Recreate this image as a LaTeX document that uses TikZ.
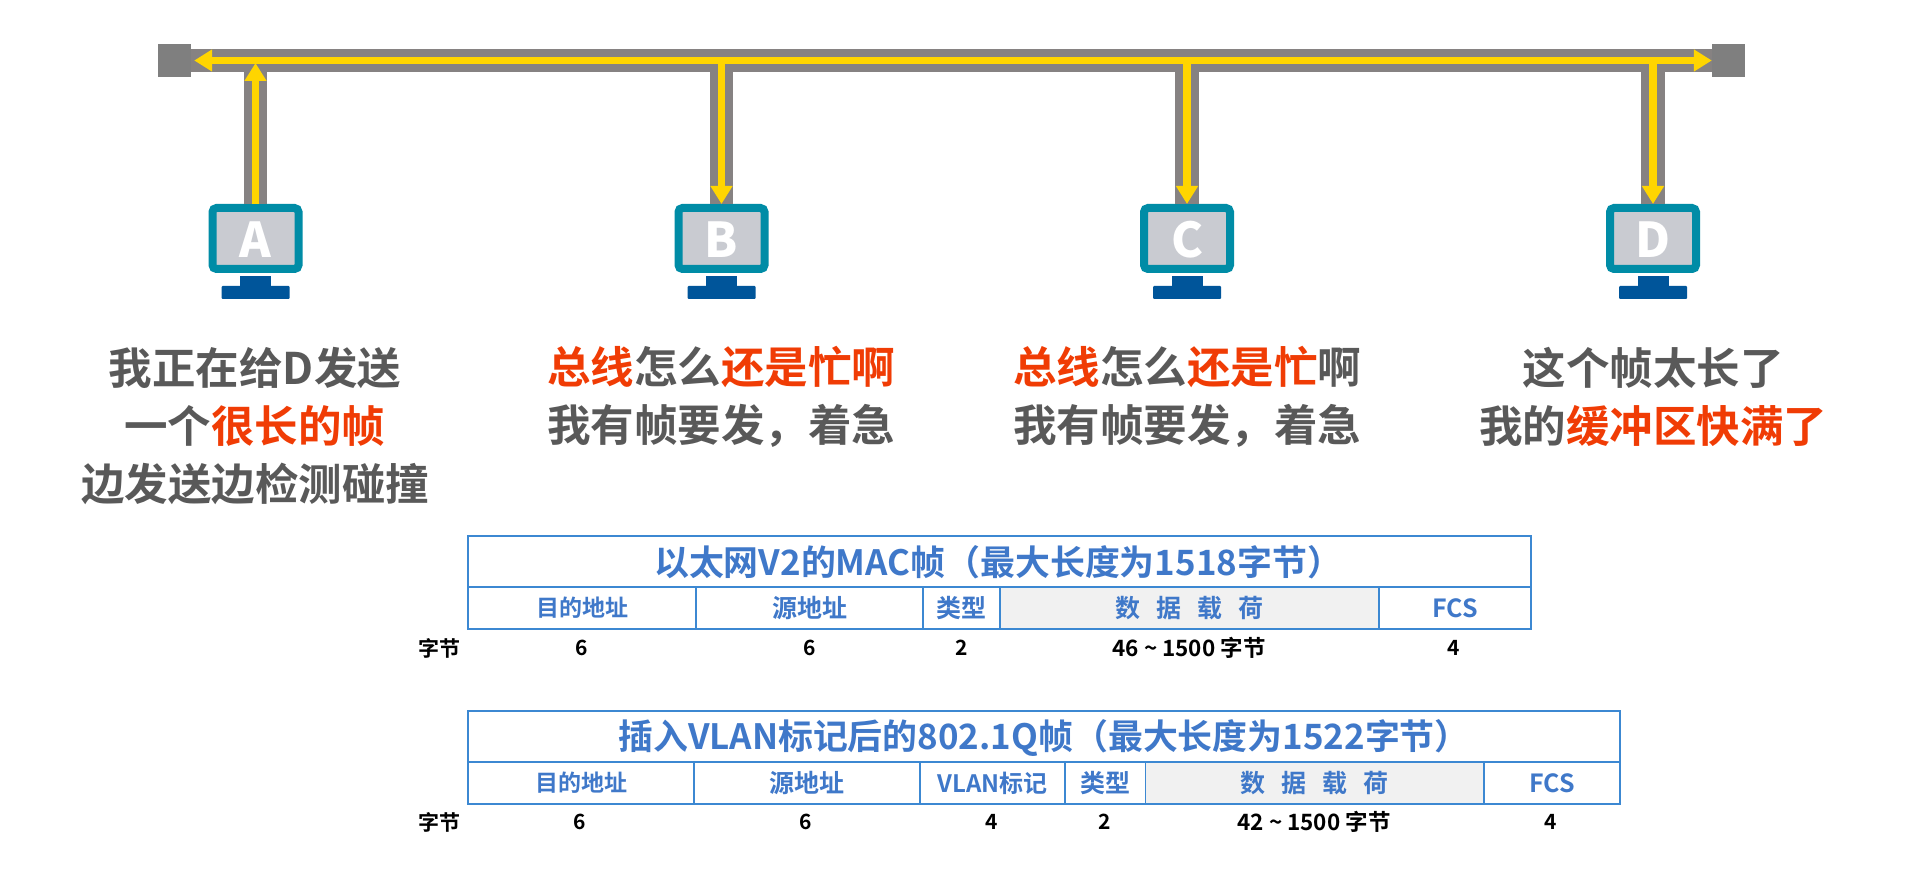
\documentclass[tikz,border=0pt]{standalone}
\usepackage{fontspec}
\setmainfont{Noto Sans CJK SC}[BoldFont={* Bold}]
\newfontfamily\letterfont{Noto Sans CJK SC Black}
\usetikzlibrary{arrows.meta}
\definecolor{busgray}{HTML}{868282}
\definecolor{termgray}{HTML}{7F7F7F}
\definecolor{sigyellow}{HTML}{FFD500}
\definecolor{monteal}{HTML}{008CA6}
\definecolor{monscreen}{HTML}{C9CBD1}
\definecolor{monstand}{HTML}{00559A}
\definecolor{txtgray}{HTML}{595959}
\definecolor{txtred}{HTML}{F03C05}
\definecolor{tblblue}{HTML}{3F78C9}
\definecolor{tblline}{HTML}{3C88D2}
\definecolor{payload}{HTML}{F1F1F1}
\newcommand{\hl}[1]{\textcolor{txtred}{#1}}
\newcommand{\pay}{数\hspace{16pt}据\hspace{16pt}载\hspace{16pt}荷}
\newcommand{\cellnode}[6]{%
  \pgfmathsetmacro{\cw}{#3-#2}\pgfmathsetmacro{\ch}{#5-#4}%
  \pgfmathsetmacro{\cx}{(#3+#2)/2}\pgfmathsetmacro{\cy}{(#5+#4)/2}%
  \node[tblcell,minimum width=\cw pt,minimum height=\ch pt,#6] (#1) at (\cx,\cy) {};}
\tikzset{
  x=1pt,y=-1pt,
  term/.style={fill=termgray,draw=none,inner sep=0pt,minimum width=33pt,minimum height=33pt},
  busline/.style={draw=busgray,line width=23.5pt},
  sigarrow/.style={draw=sigyellow,line width=7.5pt,-{Triangle[length=18pt,width=21pt,fill=sigyellow]}},
  monitor/.style={draw=monteal,line width=8pt,fill=monscreen,rounded corners=4pt,inner sep=0pt,
    minimum width=86pt,minimum height=61pt,text=white},
  monletter/.style={font=\letterfont\fontsize{48}{48}\selectfont,text=white,inner sep=0pt},
  neck/.style={fill=monstand,draw=none,inner sep=0pt,minimum width=31pt,minimum height=10pt},
  foot/.style={fill=monstand,draw=none,inner sep=0pt,minimum width=68pt,minimum height=13pt,rounded corners=1pt},
  says/.style={font=\fontsize{43.5}{58}\selectfont\bfseries,text=txtgray,align=center,inner sep=0pt},
  ttl/.style={font=\fontsize{34.9}{36}\selectfont\bfseries,text=tblblue,inner sep=0pt},
  tblcell/.style={draw=tblline,line width=1.8pt,inner sep=0pt},
  fld/.style={font=\fontsize{23}{24}\selectfont\bfseries,text=tblblue,inner sep=0pt},
  fldb/.style={font=\fontsize{25}{26}\selectfont\bfseries,text=tblblue,inner sep=0pt},
  fldc/.style={font=\fontsize{24}{26}\selectfont\bfseries,text=tblblue,inner sep=0pt},
  num/.style={font=\fontsize{21}{22}\selectfont\bfseries,text=black,inner sep=0pt},
  numb/.style={font=\fontsize{22.5}{24}\selectfont\bfseries,text=black,inner sep=0pt},
}
\begin{document}
\begin{tikzpicture}
\useasboundingbox[fill=white] (0,0) rectangle (1920,874);
% bus ends and stations
\node[term] (tl) at (174.5,60.5) {};
\node[term] (tr) at (1728.5,60.5) {};
\foreach \n/\x/\l in {a/255.5/A,b/721.5/B,c/1187/C,d/1653/D}{
  \node[monitor] (m\n) at (\x,238.5) {};
  \node[monletter] (l\n) at (\x,240) {\l};
  \node[neck] (n\n) at (\x,281.5) {};
  \node[foot] (f\n) at (\x,292.5) {};
  \coordinate (j\n) at (\x,60.5);
}
% grey wires
\draw[busline] (tl.east) -- (tr.west);
\foreach \n in {a,b,c,d}{ \draw[busline] (j\n) -- (m\n.north); }
% yellow signal
\draw[sigarrow] (ja) -- ([xshift=3pt]tl.east);
\draw[sigarrow] (ja) -- (tr.west);
\draw[sigarrow,shorten >=2.5pt] (ma.north) -- (ja);
\foreach \n in {b,c,d}{ \draw[sigarrow] (j\n) -- (m\n.north); }
% speech
\node[says] (sa) at (255,426) {我正在给D发送\\一个\hl{很长的帧}\\边发送边检测碰撞};
\node[says] (sb) at (721,397) {\hl{总线}怎么\hl{还是忙啊}\\我有帧要发，着急};
\node[says] (sc) at (1187,397) {\hl{总线}怎么\hl{还是忙}啊\\我有帧要发，着急};
\node[says] (sd) at (1653,397) {这个帧太长了\\我的\hl{缓冲区快满了}};
% table 1
\cellnode{t1}{468}{1531}{536}{587}{}
\cellnode{f11}{468}{696}{587}{629}{}
\cellnode{f12}{696}{923}{587}{629}{}
\cellnode{f13}{923}{1000}{587}{629}{}
\cellnode{f14}{1000}{1379}{587}{629}{fill=payload}
\cellnode{f15}{1379}{1531}{587}{629}{}
\node[ttl] (t1t) at ([xshift=-1.5pt,yshift=-1pt]t1) {以太网V2的MAC帧（最大长度为1518字节）};
\node[fld] (x11) at (f11) {目的地址};
\node[fldb] (x12) at (f12) {源地址};
\node[fldb] (x13) at (f13) {类型};
\node[fldb] (x14) at (f14) {\pay};
\node[fldb] (x15) at (f15) {FCS};
\node[num] (u1) at (439,648) {字节};
\node[num] (v11) at (582,648) {6};
\node[num] (v12) at (810,648) {6};
\node[num] (v13) at (962,648) {2};
\node[numb] (v14) at (1189,648) {46 \textasciitilde{} 1500 字节};
\node[num] (v15) at (1454,648) {4};
% table 2
\cellnode{t2}{468}{1620}{711}{762}{}
\cellnode{f21}{468}{694}{762}{804}{}
\cellnode{f22}{694}{920}{762}{804}{}
\cellnode{f23}{920}{1065}{762}{804}{}
\cellnode{f24}{1065}{1145.5}{762}{804}{}
\cellnode{f25}{1145.5}{1484}{762}{804}{fill=payload}
\cellnode{f26}{1484}{1620}{762}{804}{}
\node[ttl] (t2t) at ([yshift=-1pt]t2) {插入VLAN标记后的802.1Q帧（最大长度为1522字节）};
\node[fld] (x21) at (f21) {目的地址};
\node[fldb] (x22) at (f22) {源地址};
\node[fldc] (x23) at (f23) {VLAN标记};
\node[fldb] (x24) at (f24) {类型};
\node[fldb] (x25) at (f25) {\pay};
\node[fldb] (x26) at (f26) {FCS};
\node[num] (u2) at (439,822) {字节};
\node[num] (v21) at (580,822) {6};
\node[num] (v22) at (806,822) {6};
\node[num] (v23) at (992,822) {4};
\node[num] (v24) at (1105,822) {2};
\node[numb] (v25) at (1314,822) {42 \textasciitilde{} 1500 字节};
\node[num] (v26) at (1551,822) {4};
\end{tikzpicture}
\end{document}
